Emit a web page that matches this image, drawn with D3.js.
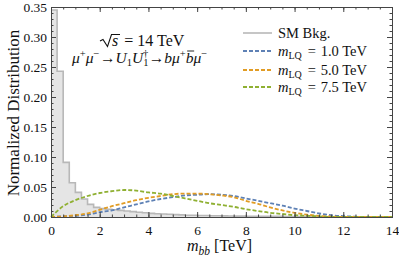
<!DOCTYPE html>
<html>
<head>
<meta charset="utf-8">
<script src="https://cdn.jsdelivr.net/npm/d3@7"></script>
<style>
  body { margin: 0; background: #fff; }
  svg { display: block; }
  text { font-family: "Liberation Serif", "Times New Roman", serif; fill: #111; }
</style>
</head>
<body>
<svg id="chart" width="399" height="258"></svg>
<script>
// SM background histogram, bins of 0.25 TeV starting at 0
const binWidth = 0.25;
const bkgValues = [
  0.345, 0.243, 0.091, 0.057, 0.041, 0.030, 0.021, 0.016,
  0.014, 0.013, 0.012, 0.011, 0.010, 0.009, 0.008, 0.007,
  0.006, 0.0055, 0.005, 0.0045, 0.004, 0.0035, 0.003, 0.003,
  0.0025, 0.0025, 0.002, 0.002, 0.0018, 0.0016, 0.0015, 0.0015,
  0.0013, 0.0012, 0.0011, 0.001, 0.001, 0.001, 0.0009, 0.0008,
  0.0008, 0.0007, 0.0007, 0.0006, 0.0006, 0.0005, 0.0005, 0.0005,
  0.0004, 0.0004, 0.0004, 0.0004, 0.0003, 0.0003, 0.0003, 0.0003
];

// signal curves
const sigX = [0, 0.5, 1, 1.5, 2, 2.5, 3, 3.5, 4, 4.5, 5, 5.5, 6, 6.5, 7,
              7.5, 8, 8.5, 9, 9.5, 10, 10.5, 11, 11.5, 12, 12.5, 13, 13.5, 14];
const sigLQ1 = [0, 0.001, 0.002, 0.004, 0.008, 0.011, 0.016, 0.021, 0.026, 0.030,
                0.033, 0.036, 0.037, 0.038, 0.037, 0.035, 0.031, 0.027, 0.023, 0.019,
                0.014, 0.010, 0.006, 0.003, 0.0015, 0.0005, 0, 0, 0];
const sigLQ5 = [0, 0.001, 0.003, 0.006, 0.012, 0.018, 0.023, 0.028, 0.032, 0.035,
                0.038, 0.039, 0.039, 0.038, 0.036, 0.033, 0.027, 0.022, 0.016, 0.011,
                0.007, 0.004, 0.002, 0.0007, 0, 0, 0, 0, 0];
const sigLQ75 = [0, 0.018, 0.028, 0.035, 0.040, 0.043, 0.045, 0.044, 0.041, 0.039,
                 0.035, 0.031, 0.027, 0.023, 0.020, 0.017, 0.013, 0.010, 0.007, 0.005,
                 0.003, 0.002, 0.001, 0, 0, 0, 0, 0, 0];

const seriesNames = ["1.0", "5.0", "7.5"];
const seriesColors = ["#5e81b5", "#e19c24", "#8fb032"];
const xTicks = [0, 2, 4, 6, 8, 10, 12, 14];
const yTicks = [0, 0.05, 0.10, 0.15, 0.20, 0.25, 0.30, 0.35];

const svg = d3.select("#chart");
const plotL = 51, plotR = 392, plotT = 7, plotB = 217;

const x = d3.scaleLinear().domain([0, 14]).range([plotL, plotR]);
const y = d3.scaleLinear().domain([0, 0.35]).range([plotB, plotT]);

// background histogram
const bkgPts = bkgValues.map((v, i) => [i * binWidth, v]);
bkgPts.push([bkgValues.length * binWidth, bkgValues[bkgValues.length - 1]]);

const area = d3.area()
    .x(d => x(d[0])).y0(y(0)).y1(d => y(d[1]))
    .curve(d3.curveStepAfter);
const line = d3.line()
    .x(d => x(d[0])).y(d => y(d[1]))
    .curve(d3.curveStepAfter);

svg.append("path").datum(bkgPts)
    .attr("d", area).attr("fill", "#e5e5e5");
svg.append("path").datum(bkgPts)
    .attr("d", line).attr("fill", "none")
    .attr("stroke", "#b8b8b8").attr("stroke-width", 1.6);

// signal lines
const sigLine = d3.line()
    .x(d => x(d[0])).y(d => y(d[1]))
    .curve(d3.curveMonotoneX);

[sigLQ1, sigLQ5, sigLQ75].forEach(function (vals, k) {
    svg.append("path")
        .datum(sigX.map((xv, i) => [xv, vals[i]]))
        .attr("d", sigLine)
        .attr("fill", "none")
        .attr("stroke", seriesColors[k])
        .attr("stroke-width", 1.8)
        .attr("stroke-dasharray", "4,2");
});

// frame with inward ticks
const frameColor = "#444";
function styleAxis(g) {
    g.select(".domain").attr("stroke", frameColor);
    g.selectAll(".tick line").attr("stroke", frameColor);
    g.selectAll(".tick text").style("font-size", "13.5px")
        .style("font-family", '"Liberation Serif", serif').attr("fill", "#111");
}

const xMinor = d3.range(0, 14.01, 0.5);
const yMinor = d3.range(0, 0.3501, 0.01);

// minor ticks
svg.append("g").attr("transform", `translate(0,${plotB})`)
    .call(d3.axisBottom(x).tickValues(xMinor).tickSize(-2.5).tickFormat(""))
    .call(styleAxis);
svg.append("g").attr("transform", `translate(0,${plotT})`)
    .call(d3.axisTop(x).tickValues(xMinor).tickSize(-2.5).tickFormat(""))
    .call(styleAxis);
svg.append("g").attr("transform", `translate(${plotL},0)`)
    .call(d3.axisLeft(y).tickValues(yMinor).tickSize(-2.5).tickFormat(""))
    .call(styleAxis);
svg.append("g").attr("transform", `translate(${plotR},0)`)
    .call(d3.axisRight(y).tickValues(yMinor).tickSize(-2.5).tickFormat(""))
    .call(styleAxis);

// major ticks
svg.append("g").attr("transform", `translate(0,${plotB})`)
    .call(d3.axisBottom(x).tickValues(xTicks).tickSize(-5).tickPadding(8).tickFormat(d3.format("d")))
    .call(styleAxis);
svg.append("g").attr("transform", `translate(0,${plotT})`)
    .call(d3.axisTop(x).tickValues(xTicks).tickSize(-5).tickFormat(""))
    .call(styleAxis);
svg.append("g").attr("transform", `translate(${plotL},0)`)
    .call(d3.axisLeft(y).tickValues(yTicks).tickSize(-5).tickPadding(4).tickFormat(d3.format(".2f")))
    .call(styleAxis);
svg.append("g").attr("transform", `translate(${plotR},0)`)
    .call(d3.axisRight(y).tickValues(yTicks).tickSize(-5).tickFormat(""))
    .call(styleAxis);

// rich text helper: segments {t, it, pos: "sup"|"sub", fs, dx}
function richText(parent, px, py, size, segs) {
    const el = parent.append("text").attr("x", px).attr("y", py).style("font-size", size + "px");
    let cur = 0;
    const spans = [];
    segs.forEach(function (s) {
        const target = s.pos === "sup" ? -size * 0.38 : s.pos === "sub" ? size * 0.22 : 0;
        const sp = el.append("tspan").attr("dy", target - cur).text(s.t);
        if (s.dx) sp.attr("dx", s.dx);
        if (s.it) sp.attr("font-style", "italic");
        if (s.pos) sp.style("font-size", (s.fs || size * 0.68) + "px");
        cur = target;
        spans.push(sp);
    });
    return { el: el, spans: spans };
}

// axis titles
richText(svg, 187, 251, 16, [
    { t: "m", it: true },
    { t: "bb", it: true, pos: "sub", fs: 11.5 },
    { t: " [TeV]" }
]);

svg.append("text")
    .attr("transform", "translate(19,113) rotate(-90)")
    .attr("text-anchor", "middle")
    .style("font-size", "17px")
    .text("Normalized Distribution");

// annotation: sqrt(s) = 14 TeV
svg.append("path")
    .attr("d", "M100,41 L103,39.5 L107.5,46.5 L111.5,34.5 L120,34.5")
    .attr("fill", "none").attr("stroke", "#111").attr("stroke-width", 1.1);
richText(svg, 112, 46, 16, [
    { t: "s", it: true },
    { t: "=", dx: 6 },
    { t: " 14 TeV" }
]);

// process line
const procSegs = [
    { t: "\u03BC", it: true }, { t: "+", pos: "sup" },
    { t: "\u03BC", it: true }, { t: "\u2212", pos: "sup" },
    { t: "\u2192", dx: 0.5 },
    { t: "U", it: true }, { t: "1", pos: "sub" },
    { t: "U", it: true }, { t: "1", pos: "sub" }, { t: "\u2020", pos: "sup", dx: -5.5 },
    { t: "\u2192", dx: 0.5 },
    { t: "b", it: true }, { t: "\u03BC", it: true }, { t: "+", pos: "sup" },
    { t: "b", it: true }, { t: "\u03BC", it: true }, { t: "\u2212", pos: "sup" }
];
const proc = richText(svg, 72, 63, 15.5, procSegs);
const bbarBox = proc.spans[14].node().getBBox();
svg.append("line")
    .attr("x1", bbarBox.x + 1.5).attr("x2", bbarBox.x + bbarBox.width + 0.5)
    .attr("y1", 51).attr("y2", 51)
    .attr("stroke", "#111").attr("stroke-width", 0.9);

// legend
const legRows = [33, 51, 70, 87];
const leg = svg.append("g");
leg.append("line")
    .attr("x1", 243).attr("x2", 272).attr("y1", legRows[0]).attr("y2", legRows[0])
    .attr("stroke", "#b8b8b8").attr("stroke-width", 1.6);
leg.append("text").attr("x", 278).attr("y", legRows[0] + 4.5)
    .style("font-size", "14.5px").text("SM Bkg.");
seriesNames.forEach(function (name, k) {
    const yy = legRows[k + 1];
    leg.append("line")
        .attr("x1", 243).attr("x2", 272).attr("y1", yy).attr("y2", yy)
        .attr("stroke", seriesColors[k]).attr("stroke-width", 1.8)
        .attr("stroke-dasharray", "4,2");
    richText(leg, 278, yy + 4.5, 14.5, [
        { t: "m", it: true },
        { t: "LQ", pos: "sub", fs: 10 },
        { t: "=", dx: 6 },
        { t: " " + name + " TeV", dx: 1 }
    ]);
});
</script>
</body>
</html>
